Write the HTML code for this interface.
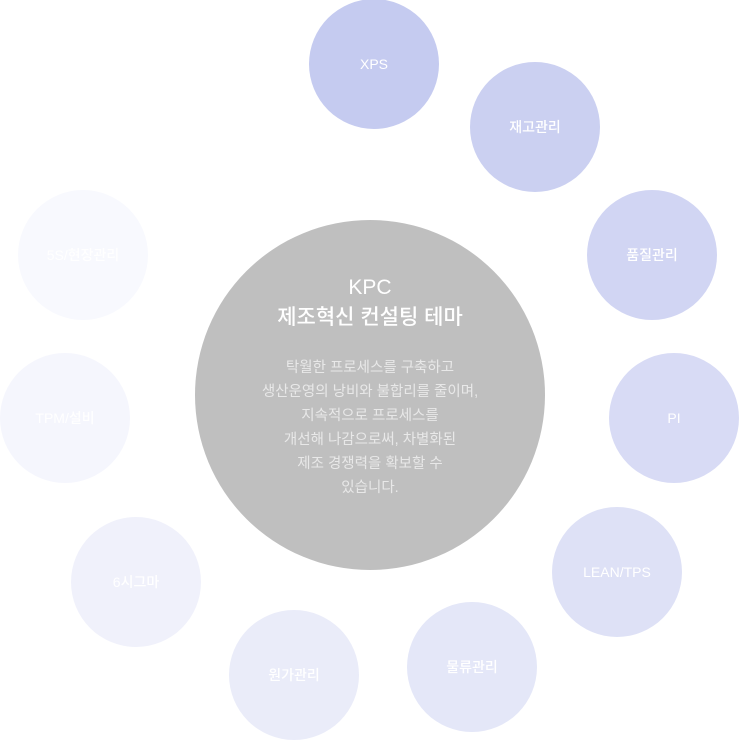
<!DOCTYPE html>
<html><head><meta charset="utf-8"><style>
body{margin:0;width:740px;height:740px;background:#fff;position:relative;overflow:hidden;font-family:"Liberation Sans","Noto Sans CJK KR",sans-serif}
.c{position:absolute;width:130px;height:130px;border-radius:50%;display:flex;align-items:center;justify-content:center;color:#fff;font-size:14px;font-weight:500}
.m{position:absolute;left:195px;top:220px;width:350px;height:350px;border-radius:50%;background:#bfbfbf;color:#fff;text-align:center}
.t{position:absolute;top:53px;width:100%;font-size:21px;line-height:30px;font-weight:500}
.b{position:absolute;top:136px;width:100%;font-size:14.5px;line-height:24px;color:#e8e8e8}
</style></head><body>
<div class="c" style="left:309px;top:-1px;background:#c5cbf0">XPS</div>
<div class="c" style="left:470px;top:62px;background:#cbd0f1">재고관리</div>
<div class="c" style="left:587px;top:190px;background:#d1d5f3">품질관리</div>
<div class="c" style="left:609px;top:353px;background:#d8dbf5">PI</div>
<div class="c" style="left:552px;top:507px;background:#dee1f6">LEAN/TPS</div>
<div class="c" style="left:407px;top:602px;background:#e4e7f8">물류관리</div>
<div class="c" style="left:229px;top:610px;background:#eaecf9">원가관리</div>
<div class="c" style="left:71px;top:517px;background:#f0f1fb">6시그마</div>
<div class="c" style="left:0px;top:353px;background:#f5f6fd">TPM/설비</div>
<div class="c" style="left:18px;top:190px;background:#f8f9fe">5S/현장관리</div>
<div class="m">
<div class="t" style="left:0">KPC<br>제조혁신 컨설팅 테마</div>
<div class="b" style="left:0">탁월한 프로세스를 구축하고<br>생산운영의 낭비와 불합리를 줄이며,<br>지속적으로 프로세스를<br>개선해 나감으로써, 차별화된<br>제조 경쟁력을 확보할 수<br>있습니다.</div>
</div>
</body></html>
